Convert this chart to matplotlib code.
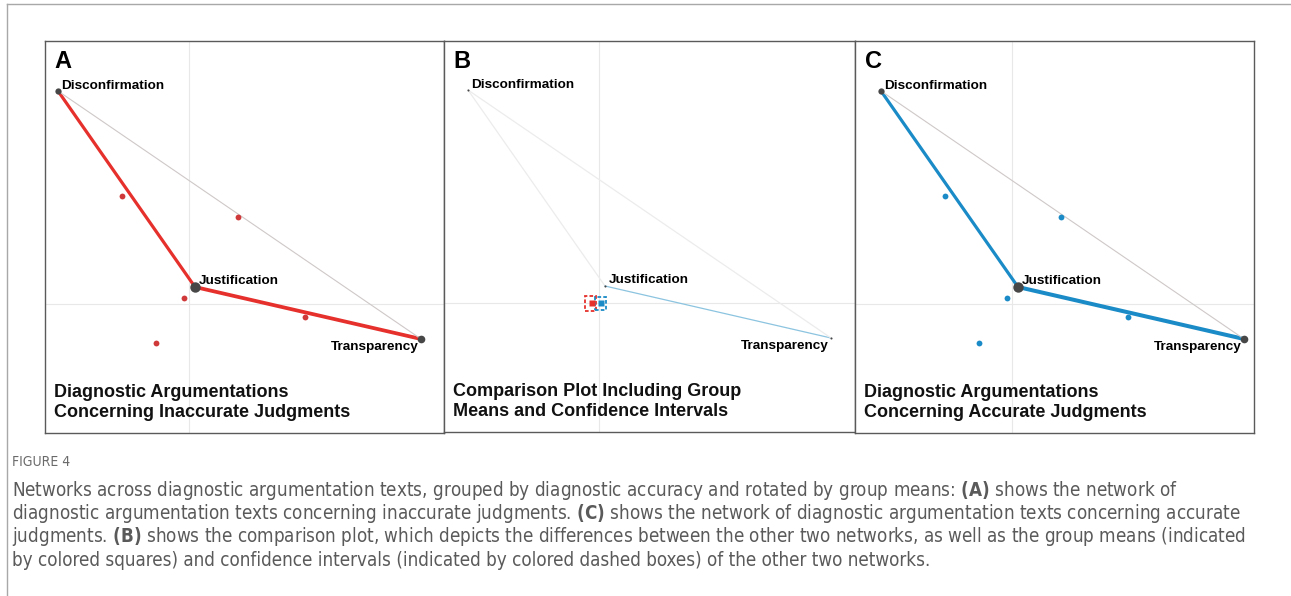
import matplotlib.pyplot as plt
from matplotlib.lines import Line2D
from matplotlib.patches import Rectangle
from matplotlib import font_manager as fm

plt.rcParams['font.family'] = ['Liberation Sans', 'DejaVu Sans']
plt.rcParams['mathtext.fontset'] = 'custom'

# network nodes (rotated ENA space)
nodes = ['Disconfirmation', 'Justification', 'Transparency']
node_x = [-1.31, 0.06, 2.32]
node_y = [2.13, 0.17, -0.35]
node_ms = [4.5, 7.5, 5.5]

# edges and weights per group
edges = [(0, 1), (1, 2), (0, 2)]
w_inaccurate = [0.55, 0.75, 0.12]
w_accurate = [0.55, 0.85, 0.12]
w_diff = [0.02, 0.10, 0.02]

# projected points of the units
pts_inacc_x = [-0.67, 0.49, -0.05, 1.16, -0.33]
pts_inacc_y = [1.08, 0.87, 0.06, -0.13, -0.39]
pts_acc_x = [-0.67, 0.49, -0.05, 1.16, -0.33]
pts_acc_y = [1.08, 0.87, 0.06, -0.13, -0.39]

# group means and confidence intervals
mean_inacc = (-0.075, 0.0)
ci_inacc_x = (-0.14, -0.03)
ci_inacc_y = (-0.08, 0.075)
mean_acc = (0.02, 0.0)
ci_acc_x = (-0.04, 0.065)
ci_acc_y = (-0.065, 0.065)

titles = ['Diagnostic Argumentations\nConcerning Inaccurate Judgments',
          'Comparison Plot Including Group\nMeans and Confidence Intervals',
          'Diagnostic Argumentations\nConcerning Accurate Judgments']
letters = ['A', 'B', 'C']

RED = '#e5302c'
BLUE = '#1a8bc6'
NODE = '#474747'

fig = plt.figure(figsize=(12.91, 5.96), dpi=100)
W, H = 1291, 596


def px_axes(l, t, r, b):
    return fig.add_axes([l / W, 1 - b / H, (r - l) / W, (b - t) / H])


axA = px_axes(45, 41, 444, 433)
axB = px_axes(444, 41, 855, 432)
axC = px_axes(855, 41, 1254, 433)
axA.set_xlim(-1.44, 2.55); axA.set_ylim(-1.29, 2.63)
axB.set_xlim(-1.55, 2.56); axB.set_ylim(-1.29, 2.62)
axC.set_xlim(-1.57, 2.42); axC.set_ylim(-1.29, 2.63)


def base(ax, letter, title):
    ax.set_xticks([]); ax.set_yticks([])
    for s in ax.spines.values():
        s.set_color('#5a5a5a'); s.set_linewidth(1.0)
    ax.axhline(0, color='#e8e8e8', lw=0.8, zorder=0)
    ax.axvline(0, color='#e8e8e8', lw=0.8, zorder=0)
    ax.text(0.024, 0.978, letter, transform=ax.transAxes, fontsize=17,
            fontweight='bold', va='top', ha='left')
    ax.text(0.023, 0.03, title, transform=ax.transAxes, fontsize=13,
            fontweight='bold', va='bottom', ha='left', linespacing=1.25,
            color='#111111')


def labels(ax):
    ax.annotate(nodes[0], (node_x[0], node_y[0]), xytext=(2.5, 1.5),
                textcoords='offset points', fontsize=9.7, fontweight='bold',
                ha='left', va='baseline')
    ax.annotate(nodes[1], (node_x[1], node_y[1]), xytext=(2.5, 2.5),
                textcoords='offset points', fontsize=9.7, fontweight='bold',
                ha='left', va='baseline')
    ax.annotate(nodes[2], (node_x[2], node_y[2]), xytext=(-2, -1.5),
                textcoords='offset points', fontsize=9.7, fontweight='bold',
                ha='right', va='top')


def network(ax, weights, color, px, py):
    for (i, j), w in zip(edges, weights):
        if w < 0.3:
            c, lw = '#cfc8c8', 0.8
        else:
            c, lw = color, 1.2 + 2.0 * w
        ax.plot([node_x[i], node_x[j]], [node_y[i], node_y[j]], color=c,
                lw=lw, solid_capstyle='round', zorder=2)
    ax.plot(px, py, 'o', color=color, ms=4.2, mec='none', zorder=3)
    for x, y, ms in zip(node_x, node_y, node_ms):
        ax.plot(x, y, 'o', color=NODE, ms=ms, mec='none', zorder=4)
    labels(ax)


network(axA, w_inaccurate, RED, pts_inacc_x, pts_inacc_y)
axA.lines[3].set_color('#d0393a')
base(axA, letters[0], titles[0])

network(axC, w_accurate, BLUE, pts_acc_x, pts_acc_y)
base(axC, letters[2], titles[2])

# comparison plot
for (i, j), w in zip(edges, w_diff):
    c = '#8cc4e0' if w > 0.05 else '#ececec'
    axB.plot([node_x[i], node_x[j]], [node_y[i], node_y[j]], color=c,
             lw=0.9, zorder=2)
axB.plot(node_x, node_y, 'o', color=NODE, ms=1.5, mec='none', ls='none',
         zorder=4)
labels(axB)
for m, cx, cy, col in [(mean_inacc, ci_inacc_x, ci_inacc_y, RED),
                       (mean_acc, ci_acc_x, ci_acc_y, BLUE)]:
    axB.add_patch(Rectangle((cx[0], cy[0]), cx[1] - cx[0], cy[1] - cy[0],
                            fill=False, ec=col, lw=1.3, ls=(0, (2, 1.2)),
                            zorder=5))
    axB.plot(m[0], m[1], 's', color=col, ms=5, mec='none', zorder=6)
base(axB, letters[1], titles[1])

# page border lines
fig.add_artist(Line2D([7 / W, 1], [1 - 3.5 / H, 1 - 3.5 / H], color='#a8a8a8',
                      lw=1.0, transform=fig.transFigure))
fig.add_artist(Line2D([7 / W, 7 / W], [0, 1 - 3.5 / H], color='#a8a8a8',
                      lw=1.0, transform=fig.transFigure))

# caption: use a condensed face if one is installed
cond_path = fm.findfont(fm.FontProperties(family='DejaVu Sans',
                                          stretch='condensed'))
if 'Condensed' in cond_path:
    cap_font, cap_stretch = 'DejaVu Sans', 'condensed'
    plt.rcParams['mathtext.rm'] = 'DejaVu Sans:stretch=condensed'
    plt.rcParams['mathtext.bf'] = 'DejaVu Sans:weight=bold:stretch=condensed'
else:
    cap_font, cap_stretch = 'Liberation Sans', 'normal'
    plt.rcParams['mathtext.rm'] = 'Liberation Sans'
    plt.rcParams['mathtext.bf'] = 'Liberation Sans:bold'

cap_lines = [
    r'Networks across diagnostic argumentation texts, grouped by diagnostic accuracy and rotated by group means: $\mathbf{(A)}$ shows the network of',
    r'diagnostic argumentation texts concerning inaccurate judgments. $\mathbf{(C)}$ shows the network of diagnostic argumentation texts concerning accurate',
    r'judgments. $\mathbf{(B)}$ shows the comparison plot, which depicts the differences between the other two networks, as well as the group means (indicated',
    'by colored squares) and confidence intervals (indicated by colored dashed boxes) of the other two networks.',
]
fig.text(12 / W, 1 - 462 / H, 'FIGURE 4', family=cap_font, stretch=cap_stretch,
         fontsize=10, color='#6a6a6a', va='center', ha='left')
cap_texts = []
for k, line in enumerate(cap_lines):
    t = fig.text(12 / W, 1 - (490 + 23.5 * k) / H, line, family=cap_font,
                 stretch=cap_stretch, fontsize=14, color='#5a5a5a',
                 va='center', ha='left')
    cap_texts.append(t)

# fit caption size so the third line spans the same width as the reference
renderer = fig.canvas.get_renderer()
w3 = cap_texts[2].get_window_extent(renderer).width
fs = 14 * 1236 / w3
for t in cap_texts:
    t.set_fontsize(fs)

fig.savefig('out.png', dpi=100)
